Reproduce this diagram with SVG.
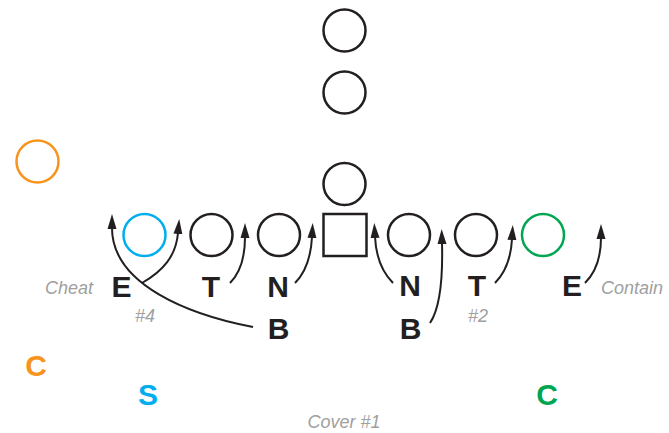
<svg xmlns="http://www.w3.org/2000/svg" width="669" height="433" viewBox="0 0 669 433">
  <style>
    .pl { fill: none; stroke: #231f20; stroke-width: 2.5; }
    .org { fill: none; stroke: #f7941d; stroke-width: 2.5; }
    .cyn { fill: none; stroke: #00aeef; stroke-width: 2.5; }
    .grn { fill: none; stroke: #00a651; stroke-width: 2.5; }
    .lbl { font-family: "Liberation Sans", Arial, sans-serif; font-weight: bold; font-size: 30px; fill: #231f20; text-anchor: middle; }
    .note { font-family: "Liberation Sans", Arial, sans-serif; font-style: italic; font-size: 18px; fill: #a0a0a0; }
    .run { fill: none; stroke: #231f20; stroke-width: 2; marker-end: url(#ah); }
  </style>
  <defs>
    <marker id="ah" markerUnits="userSpaceOnUse" markerWidth="18" markerHeight="12" refX="1" refY="5" orient="auto" viewBox="0 0 18 10">
      <path d="M0,0.5 L15,5 L0,9.5 z" fill="#231f20"/>
    </marker>
  </defs>

  <!-- offensive backfield -->
  <g id="back-deep"><circle class="pl" cx="344.5" cy="30.5" r="21"/></g>
  <g id="back-mid"><circle class="pl" cx="344.5" cy="92.5" r="21"/></g>
  <g id="qb"><circle class="pl" cx="344.5" cy="184" r="21"/></g>
  <g id="center"><rect class="pl" x="323.5" y="214" width="43" height="42"/></g>

  <!-- offensive line -->
  <g id="te-left"><circle class="cyn" cx="144.5" cy="235" r="21"/></g>
  <g id="lt"><circle class="pl" cx="211.5" cy="235" r="21"/></g>
  <g id="lg"><circle class="pl" cx="279" cy="235" r="21"/></g>
  <g id="rg"><circle class="pl" cx="409" cy="235" r="21"/></g>
  <g id="rt"><circle class="pl" cx="476" cy="235" r="21"/></g>
  <g id="te-right"><circle class="grn" cx="543" cy="235" r="21"/></g>
  <g id="wing"><circle class="org" cx="37.5" cy="161.5" r="21"/></g>

  <!-- defensive front -->
  <g id="end-left"><text class="lbl" x="121.5" y="296.5">E</text></g>
  <g id="tackle-left"><text class="lbl" x="211" y="296.5">T</text></g>
  <g id="nose-left"><text class="lbl" x="278" y="296.5">N</text></g>
  <g id="nose-right"><text class="lbl" x="410" y="296">N</text></g>
  <g id="tackle-right"><text class="lbl" x="477" y="296">T</text></g>
  <g id="end-right"><text class="lbl" x="572" y="296">E</text></g>
  <g id="backer-left"><text class="lbl" x="278.5" y="338.5">B</text></g>
  <g id="backer-right"><text class="lbl" x="410.5" y="338.5">B</text></g>

  <!-- secondary -->
  <g id="corner-left"><text class="lbl" x="36" y="375.5" style="fill:#f7941d">C</text></g>
  <g id="safety"><text class="lbl" x="148" y="405" style="fill:#00aeef">S</text></g>
  <g id="corner-right"><text class="lbl" x="547" y="404.5" style="fill:#00a651">C</text></g>

  <!-- notes -->
  <g id="notes">
    <text class="note" x="45" y="294">Cheat</text>
    <text class="note" x="601" y="294">Contain</text>
    <text class="note" x="145" y="321.5" text-anchor="middle">#4</text>
    <text class="note" x="478" y="321.5" text-anchor="middle">#2</text>
    <text class="note" x="344" y="428" text-anchor="middle">Cover #1</text>
  </g>

  <!-- stunt and rush paths -->
  <g id="connectors">
    <path class="run" d="M253,327 C190,315 112,285 112,228"/>
    <path class="run" d="M142,283 C163,271 176,256 178,233"/>
    <path class="run" d="M230,283 C241,272 245,256 245,237"/>
    <path class="run" d="M295,283 C306,272 311,256 312,237"/>
    <path class="run" d="M393,283 C381,271 376,256 375,237"/>
    <path class="run" d="M430,323 C440,308 443,280 442,243"/>
    <path class="run" d="M495,283 C506,272 511,257 512,239"/>
    <path class="run" d="M585,283 C596,272 601,257 601,238"/>
  </g>
</svg>
